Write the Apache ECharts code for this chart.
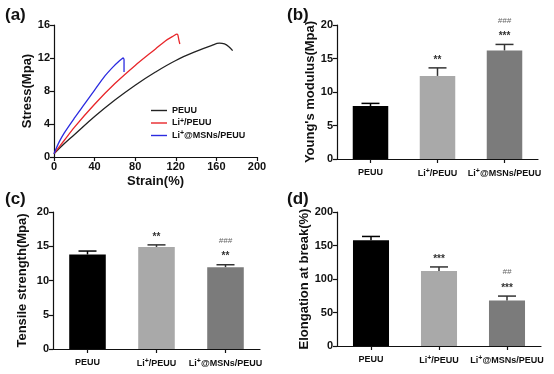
<!DOCTYPE html>
<html>
<head>
<meta charset="utf-8">
<script src="https://cdn.jsdelivr.net/npm/echarts@6/dist/echarts.min.js"></script>
<style>
html,body{margin:0;padding:0;background:#fff;}
#c{width:554px;height:374px;}
</style>
</head>
<body>
<div id="c"></div>
<script>
// ---- Data ----
const seriesNames = ['PEUU', 'Li+/PEUU', 'Li+@MSNs/PEUU'];
// (a) stress-strain curves
const peuuStrain = [0, 10, 20, 40, 60, 80, 100, 120, 140, 155, 163, 168, 172, 176];
const peuuStress = [0.4, 1.6, 2.7, 4.9, 6.9, 8.7, 10.3, 11.7, 12.8, 13.5, 13.8, 13.7, 13.4, 12.9];
const liStrain = [0, 10, 20, 40, 60, 80, 100, 110, 118, 121, 122, 123, 124];
const liStress = [0.4, 2.0, 3.6, 6.4, 8.9, 11.1, 13.1, 14.1, 14.7, 14.9, 14.8, 14.2, 13.7];
const msnStrain = [0, 5, 10, 20, 30, 40, 50, 58, 64, 67, 68, 69, 69];
const msnStress = [0.4, 1.8, 2.9, 4.7, 6.4, 8.1, 9.8, 10.9, 11.6, 11.9, 12.0, 11.8, 10.3];
// (b)-(d) bar panels
const categories = ['PEUU', 'Li+/PEUU', 'Li+@MSNs/PEUU'];
const modulus = [7.9, 12.4, 16.2];
const modulusErr = [0.4, 1.2, 0.9];
const modStars = ['', '**', '***'];
const modHash = ['', '', '###'];
const tensile = [13.8, 14.9, 11.95];
const tensileErr = [0.5, 0.3, 0.35];
const tenStars = ['', '**', '**'];
const tenHash = ['', '', '###'];
const elongation = [158, 112, 68];
const elongationErr = [5.5, 6, 6.5];
const elStars = ['', '***', '***'];
const elHash = ['', '', '##'];
// axis ticks
const aXTicks = [0, 200, 40];
const aYTicks = [0, 16, 4];
const bYTicks = [0, 20, 5];
const cYTicks = [0, 20, 5];
const dYTicks = [0, 200, 50];

// ---- Styles ----
const FONT = 'Arial, "Liberation Sans", sans-serif';
const barColors = ['#000000', '#a9a9a9', '#7b7b7b'];
const lineColors = ['#222222', '#e8262a', '#2b2be0'];
const supFmt = s => s.replace('Li+', 'Li{sup|+}');
const rich = (size) => ({
  sup: { fontSize: 7, fontWeight: 'bold', fontFamily: FONT, color: '#111', verticalAlign: 'top', padding: [0, 0, size - 5, 0] }
});

function pairs(xs, ys) { return xs.map((x, i) => [x, ys[i]]); }

function axisLineCommon() {
  return {
    axisLine: { show: true, onZero: false, lineStyle: { color: '#111', width: 1.2 } },
    axisTick: { show: true, inside: false, length: 4, lineStyle: { color: '#111', width: 1.2 } },
    splitLine: { show: false }
  };
}

function valueY(gi, t, name, gap) {
  return Object.assign({
    type: 'value', gridIndex: gi, min: t[0], max: t[1], interval: t[2],
    name: name, nameLocation: 'middle', nameGap: gap, nameRotate: 90,
    nameTextStyle: { fontFamily: FONT, fontSize: 13, fontWeight: 'bold', color: '#111' },
    axisLabel: { fontFamily: FONT, fontSize: 11, fontWeight: 'bold', color: '#111', margin: 4 }
  }, axisLineCommon());
}

function catX(gi) {
  return Object.assign({
    type: 'category', gridIndex: gi, data: categories,
    axisTick: { show: true, alignWithLabel: true, length: 4, lineStyle: { color: '#111', width: 1.2 } },
    axisLabel: {
      interval: 0, margin: 9, fontFamily: FONT, fontSize: 9, fontWeight: 'bold', color: '#111',
      formatter: supFmt, rich: rich(9)
    }
  }, { axisLine: { show: true, lineStyle: { color: '#111', width: 1.2 } }, splitLine: { show: false } });
}

function barSeries(gi, vals) {
  return {
    type: 'bar', xAxisIndex: gi, yAxisIndex: gi, barWidth: '53%',
    data: vals.map((v, i) => ({ value: v, itemStyle: { color: barColors[i] } })),
    silent: true
  };
}

function errSeries(gi, vals, errs, stars, hashes) {
  return {
    type: 'custom', xAxisIndex: gi, yAxisIndex: gi, silent: true, z: 5,
    data: vals.map((v, i) => [i, v, errs[i]]),
    renderItem: function (params, api) {
      const i = api.value(0), v = api.value(1), e = api.value(2);
      const p0 = api.coord([i, v]);
      const p1 = api.coord([i, v + e]);
      const idx = params.dataIndex;
      const col = idx === 0 ? '#000' : '#333';
      const half = 9;
      const children = [
        { type: 'line', shape: { x1: p0[0], y1: p0[1], x2: p1[0], y2: p1[1] }, style: { stroke: col, lineWidth: 1.5 } },
        { type: 'line', shape: { x1: p1[0] - half, y1: p1[1], x2: p1[0] + half, y2: p1[1] }, style: { stroke: col, lineWidth: 1.5 } }
      ];
      if (stars[idx]) {
        children.push({ type: 'text', style: { text: stars[idx], x: p1[0], y: p1[1] - 3, align: 'center', verticalAlign: 'bottom', font: 'bold 10px ' + FONT, fill: '#333' } });
      }
      if (hashes[idx]) {
        children.push({ type: 'text', style: { text: hashes[idx], x: p1[0], y: p1[1] - 20, align: 'center', verticalAlign: 'bottom', font: 'italic 8px ' + FONT, fill: '#666' } });
      }
      return { type: 'group', children: children };
    }
  };
}

const LEGEND_ICON = 'path://M0,0 L16,0 L16,1.4 L0,1.4 Z';

const option = {
  backgroundColor: '#ffffff',
  animation: false,
  textStyle: { fontFamily: FONT },
  grid: [
    { left: 54, top: 25, width: 203, height: 132 },
    { left: 337, top: 25, width: 201, height: 134 },
    { left: 53, top: 212, width: 207, height: 137 },
    { left: 337, top: 212, width: 204, height: 134 }
  ],
  xAxis: [
    Object.assign({
      type: 'value', gridIndex: 0, min: aXTicks[0], max: aXTicks[1], interval: aXTicks[2],
      name: 'Strain(%)', nameLocation: 'middle', nameGap: 18,
      nameTextStyle: { fontFamily: FONT, fontSize: 13, fontWeight: 'bold', color: '#111' },
      axisLabel: { fontFamily: FONT, fontSize: 11, fontWeight: 'bold', color: '#111', margin: 4 }
    }, axisLineCommon()),
    catX(1), catX(2), catX(3)
  ],
  yAxis: [
    valueY(0, aYTicks, 'Stress(Mpa)', 16),
    valueY(1, bYTicks, "Young's modulus(Mpa)", 20),
    valueY(2, cYTicks, 'Tensile strength(Mpa)', 24),
    valueY(3, dYTicks, 'Elongation at break(%)', 22)
  ],
  legend: {
    orient: 'vertical', left: 146, top: 101, itemWidth: 16, itemHeight: 8, itemGap: 2.5,
    data: seriesNames.map(n => ({ name: n, icon: LEGEND_ICON })),
    formatter: supFmt,
    textStyle: { fontFamily: FONT, fontSize: 9, fontWeight: 'bold', color: '#111', rich: rich(9) },
    selectedMode: false
  },
  series: [
    { name: seriesNames[0], type: 'line', xAxisIndex: 0, yAxisIndex: 0, data: pairs(peuuStrain, peuuStress), symbol: 'none', smooth: 0.4, lineStyle: { color: lineColors[0], width: 1.3 }, itemStyle: { color: lineColors[0] } },
    { name: seriesNames[1], type: 'line', xAxisIndex: 0, yAxisIndex: 0, data: pairs(liStrain, liStress), symbol: 'none', smooth: 0.3, lineStyle: { color: lineColors[1], width: 1.3 }, itemStyle: { color: lineColors[1] } },
    { name: seriesNames[2], type: 'line', xAxisIndex: 0, yAxisIndex: 0, data: pairs(msnStrain, msnStress), symbol: 'none', smooth: 0.3, lineStyle: { color: lineColors[2], width: 1.3 }, itemStyle: { color: lineColors[2] } },
    barSeries(1, modulus), errSeries(1, modulus, modulusErr, modStars, modHash),
    barSeries(2, tensile), errSeries(2, tensile, tensileErr, tenStars, tenHash),
    barSeries(3, elongation), errSeries(3, elongation, elongationErr, elStars, elHash)
  ],
  graphic: [
    { type: 'text', left: 5, top: 7, style: { text: '(a)', font: 'bold 17px ' + FONT, fill: '#111' } },
    { type: 'text', left: 287, top: 7, style: { text: '(b)', font: 'bold 17px ' + FONT, fill: '#111' } },
    { type: 'text', left: 5, top: 191, style: { text: '(c)', font: 'bold 17px ' + FONT, fill: '#111' } },
    { type: 'text', left: 287, top: 191, style: { text: '(d)', font: 'bold 17px ' + FONT, fill: '#111' } }
  ]
};

const chart = echarts.init(document.getElementById('c'), null, { renderer: 'canvas' });
chart.setOption(option);
</script>
</body>
</html>
